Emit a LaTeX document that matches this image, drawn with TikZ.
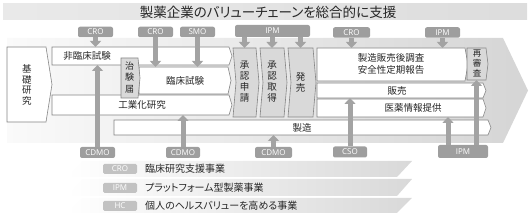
\documentclass[tikz,border=0pt]{standalone}
\usepackage{fontspec}
\setmainfont{Noto Sans CJK JP}[RawFeature=+palt]
\setsansfont{Open Sans}
\usetikzlibrary{arrows.meta}
\definecolor{arrowgray}{HTML}{A3A3A3}
\definecolor{labelgray}{HTML}{9E9E9E}
\definecolor{leglabel}{HTML}{C2C2C2}
\definecolor{boxline}{HTML}{858585}
\definecolor{colfill}{HTML}{D9D9D9}
\newcommand{\chevshape}[3]{%
  \path[#1] (#2.north west) -- (#2.north east) -- ([xshift=#3]#2.east) -- (#2.south east) -- (#2.south west) -- cycle;}
\newcommand{\colshape}[3]{%
  \path[#1] (#2.north west) -- (#2.north east) -- ([xshift=#3]#2.east) -- (#2.south east) -- (#2.south west) -- ([xshift=#3]#2.west) -- cycle;}
\begin{document}
\begin{tikzpicture}[x=1pt,y=-1pt,
  area/.style={inner sep=0pt, outer sep=0pt, draw=none, anchor=north west},
  whitebox/.style={draw=boxline, line width=0.6pt, fill=white},
  greybox/.style={draw=boxline, line width=0.6pt, fill=colfill},
  txt/.style={inner sep=0pt, font=\fontsize{9.5}{11}\selectfont, text=black!85},
  vtxt/.style={inner sep=0pt, align=center, text=black!85},
  lab/.style={fill=labelgray, text=white, rounded corners=2pt, inner sep=0pt,
    minimum height=10.5pt, font=\sffamily\fontsize{8}{9}\selectfont},
  llab/.style={fill=leglabel, text=white, rounded corners=1.5pt, inner sep=0pt,
    minimum height=10pt, minimum width=34pt, font=\sffamily\fontsize{8}{9}\selectfont},
  legtxt/.style={inner sep=0pt, anchor=west, font=\fontsize{10}{11}\selectfont, text=black!85},
  garrow/.style={draw=arrowgray, line width=5pt, -{Triangle[width=11pt,length=6pt]}}
]
\useasboundingbox (0,0) rectangle (531,213);
% title bar
\shade[left color=gray!17, right color=gray!27] (3,4) rectangle (527,20);
\node[inner sep=0pt, font=\fontsize{13.5}{15}\selectfont, text=black!85] (title) at (268,12) {製薬企業のバリューチェーンを総合的に支援};
% big background arrow
\shade[left color=gray!4, right color=gray!33] (7,38) -- (503,38) -- (528,90.5) -- (503,143) -- (7,143) -- cycle;
% legend bands
\shade[left color=white, right color=gray!30] (82,161) -- (412,161) -- (397,177) -- (67,177) -- cycle;
\shade[left color=white, right color=gray!30] (82,179) -- (412,179) -- (397,196) -- (67,196) -- cycle;
\shade[left color=white, right color=gray!30] (82,198) -- (412,198) -- (397,213) -- (67,213) -- cycle;
% box areas
\node[area, minimum width=39pt, minimum height=75pt] (kiso) at (7,47) {};
\node[area, minimum width=177pt, minimum height=18pt] (hirin) at (52,47) {};
\node[area, minimum width=89pt, minimum height=27pt] (rinsho) at (139,67) {};
\node[area, minimum width=17pt, minimum height=40pt] (chiken) at (121,58) {};
\node[area, minimum width=177pt, minimum height=20pt] (kogyo) at (52,95) {};
\node[area, minimum width=374pt, minimum height=15pt] (seizo) at (114,120) {};
\node[area, minimum width=23pt, minimum height=69pt] (shinsei) at (233,48) {};
\node[area, minimum width=24pt, minimum height=69pt] (shutoku) at (260,48) {};
\node[area, minimum width=25pt, minimum height=69pt] (hatsubai) at (288,48) {};
\node[area, minimum width=148pt, minimum height=33pt] (seizohan) at (317,48) {};
\node[area, minimum width=19pt, minimum height=32pt] (saishinsa) at (467,48) {};
\node[area, minimum width=166pt, minimum height=15pt] (hanbai) at (317,83) {};
\node[area, minimum width=166pt, minimum height=18pt] (iyaku) at (317,99) {};
% box shapes
\chevshape{whitebox}{kiso}{6pt}
\chevshape{whitebox}{hirin}{3pt}
\chevshape{whitebox}{kogyo}{3pt}
\chevshape{whitebox}{rinsho}{3pt}
\chevshape{greybox}{chiken}{2pt}
\chevshape{whitebox}{seizo}{3pt}
\colshape{greybox}{shinsei}{3pt}
\colshape{greybox}{shutoku}{3pt}
\colshape{greybox}{hatsubai}{3pt}
\chevshape{whitebox}{seizohan}{3pt}
\chevshape{greybox}{saishinsa}{2pt}
\chevshape{whitebox}{hanbai}{3pt}
\chevshape{whitebox}{iyaku}{3pt}
% box texts
\node[vtxt, font=\fontsize{9.5}{10.5}\selectfont] (kisoT) at (27,85) {基\\礎\\研\\究};
\node[txt] (hirinT) at (87,56) {非臨床試験};
\node[vtxt, font=\fontsize{9}{11.5}\selectfont] (chikenT) at (129.5,77.5) {治\\験\\届};
\node[txt] (rinshoT) at (185,81) {臨床試験};
\node[txt] (kogyoT) at (142,105) {工業化研究};
\node[txt] (seizoT) at (302,127.5) {製造};
\node[vtxt, font=\fontsize{9.5}{11}\selectfont] (shinseiT) at (244.5,82) {承\\認\\申\\請};
\node[vtxt, font=\fontsize{9.5}{11}\selectfont] (shutokuT) at (272,82) {承\\認\\取\\得};
\node[vtxt, font=\fontsize{9.5}{11}\selectfont] (hatsubaiT) at (300.5,82) {発\\売};
\node[vtxt, font=\fontsize{9.5}{12.5}\selectfont] (seizohanT) at (391,64) {製造販売後調査\\安全性定期報告};
\node[vtxt, font=\fontsize{8.5}{10}\selectfont] (saishinsaT) at (477,63.5) {再\\審\\査};
\node[txt] (hanbaiT) at (397,90.5) {販売};
\node[txt] (iyakuT) at (413,108) {医薬情報提供};
% labels
\node[lab, minimum width=35pt] (cro1) at (95.5,32) {CRO};
\node[lab, minimum width=35pt] (cro2) at (155.5,32) {CRO};
\node[lab, minimum width=35pt] (smo) at (197.5,32) {SMO};
\node[lab, minimum width=75pt, minimum height=12pt] (ipm1) at (272.5,31) {IPM};
\node[lab, minimum width=37pt] (cro3) at (351.5,32.5) {CRO};
\node[lab, minimum width=35pt] (ipm2) at (442.5,32.5) {IPM};
\node[lab, minimum width=35pt, minimum height=11pt] (cdmo1) at (97.5,152.5) {CDMO};
\node[lab, minimum width=34pt, minimum height=11pt] (cdmo2) at (183,152.5) {CDMO};
\node[lab, minimum width=37pt, minimum height=11pt] (cdmo3) at (273.5,152.5) {CDMO};
\node[lab, minimum width=34pt, minimum height=11pt] (cso) at (350,152) {CSO};
\node[lab, minimum width=50pt, minimum height=13pt] (ipm3) at (463,151.5) {IPM};
% arrows
\draw[garrow] (cro1.south) -- (cro1.south |- hirin.north);
\draw[garrow] (cro2.south) -- (cro2.south |- rinsho.north);
\draw[garrow] (smo.south) -- (smo.south |- rinsho.north);
\draw[garrow] (shinsei.north |- ipm1.south) -- (shinsei.north);
\draw[garrow] (shutoku.north |- ipm1.south) -- (shutoku.north);
\draw[garrow] (hatsubai.north |- ipm1.south) -- (hatsubai.north);
\draw[garrow] (cro3.south) -- (cro3.south |- seizohan.north);
\draw[garrow] (ipm2.south) -- (ipm2.south |- seizohan.north);
\draw[garrow] (cdmo1.north) -- (cdmo1.north |- hirin.south);
\draw[garrow] (cdmo2.north) -- (cdmo2.north |- kogyo.south);
\draw[garrow] (cdmo3.north) -- (cdmo3.north |- seizo.south);
\draw[garrow] (cso.north) -- (cso.north |- hanbai.south);
\draw[garrow] ([xshift=-15pt]ipm3.north) -- ([xshift=-15pt]ipm3.north |- iyaku.south);
\draw[garrow] (saishinsa.south |- ipm3.north) -- (saishinsa.south);
% legend
\node[llab] (lcro) at (120,169) {CRO};
\node[llab] (lipm) at (120,188) {IPM};
\node[llab] (lhc) at (120,206) {HC};
\node[legtxt] (lcroT) at (145,169) {臨床研究支援事業};
\node[legtxt] (lipmT) at (145,188) {プラットフォーム型製薬事業};
\node[legtxt] (lhcT) at (145,206) {個人のヘルスバリューを高める事業};
\end{tikzpicture}
\end{document}
